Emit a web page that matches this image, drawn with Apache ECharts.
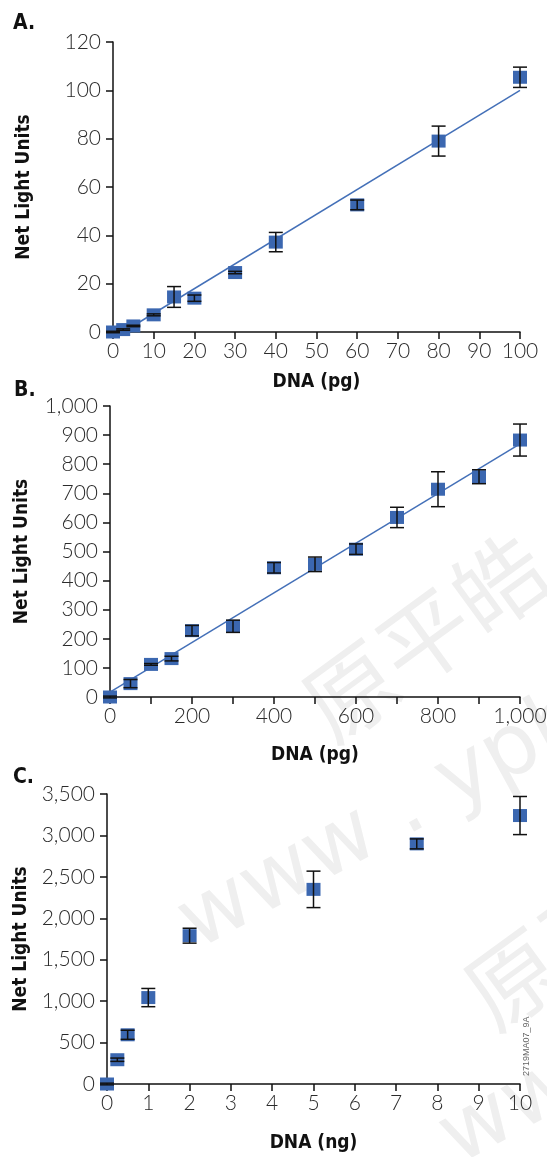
<!DOCTYPE html>
<html>
<head>
<meta charset="utf-8">
<script src="https://cdn.jsdelivr.net/npm/echarts@6/dist/echarts.min.js"></script>
<style>
  html, body { margin: 0; padding: 0; background: #fff; }
  #main { width: 547px; height: 1157px; }
</style>
</head>
<body>
<div id="main"></div>
<script>
// A. low range DNA (pg)
var xA = [0, 2.5, 5, 10, 15, 20, 30, 40, 60, 80, 100];
var yA = [0, 1, 2.5, 7.1, 14.5, 14, 24.6, 37.2, 52.6, 79, 105.4];
var errA = [0.3, 0.3, 0.3, 0.4, 4.3, 1.3, 0.5, 4, 2, 6.2, 4.2];
var fitAx = [2.5, 100];
var fitAy = [0, 100];

// B. DNA (pg) up to 1,000
var xB = [0, 50, 100, 150, 200, 300, 400, 500, 600, 700, 800, 900, 1000];
var yB = [0, 46, 112, 132, 228, 243, 444, 456, 508, 617, 714, 757, 883];
var errB = [3, 14, 3, 8, 18, 21, 18, 25, 18, 35, 60, 24, 55];
var fitBx = [0, 1000];
var fitBy = [17, 870];

// C. DNA (ng)
var xC = [0, 0.25, 0.5, 1, 2, 5, 7.5, 10];
var yC = [0, 293, 594, 1043, 1790, 2349, 2898, 3240];
var errC = [10, 20, 55, 110, 90, 220, 60, 230];

var panelLabels = ['A.', 'B.', 'C.'];
var yName = 'Net Light Units';
var xNames = ['DNA (pg)', 'DNA (pg)', 'DNA (ng)'];

var chart = echarts.init(document.getElementById('main'));

var blue = '#3b67b0';
var ink = '#111';
var tickFont = { fontFamily: 'Lato', fontWeight: 300, fontSize: 21, color: '#2b2b2b' };
var nameFont = { fontFamily: '"Liberation Sans Narrow", "DejaVu Sans Condensed", sans-serif', fontWeight: 'bold', fontSize: 19, color: ink };

function fmt(v) {
  return v.toLocaleString('en-US');
}

function pairs(xs, ys) {
  return xs.map(function (x, i) { return [x, ys[i]]; });
}

function bars(xs, ys, es) {
  return xs.map(function (x, i) { return [x, ys[i] - es[i], ys[i] + es[i]]; });
}

// error bar with caps
function errBar(params, api) {
  var top = api.coord([api.value(0), api.value(2)]);
  var bot = api.coord([api.value(0), api.value(1)]);
  var w = 7;
  var st = { stroke: ink, lineWidth: 1.5 };
  return {
    type: 'group',
    children: [
      { type: 'line', shape: { x1: top[0], y1: top[1], x2: bot[0], y2: bot[1] }, style: st },
      { type: 'line', shape: { x1: top[0] - w, y1: top[1], x2: top[0] + w, y2: top[1] }, style: st },
      { type: 'line', shape: { x1: bot[0] - w, y1: bot[1], x2: bot[0] + w, y2: bot[1] }, style: st }
    ]
  };
}

function axisBase() {
  return {
    axisLine: { onZero: false, lineStyle: { color: ink, width: 1.5 } },
    axisTick: { length: 7, lineStyle: { color: ink, width: 1.5 } },
    splitLine: { show: false }
  };
}

function xAx(idx, max, step, nameGap, labelEvery) {
  var a = axisBase();
  a.type = 'value';
  a.gridIndex = idx;
  a.min = 0;
  a.max = max;
  a.interval = step;
  a.name = xNames[idx];
  a.nameLocation = 'middle';
  a.nameGap = nameGap;
  a.nameTextStyle = nameFont;
  a.axisLabel = Object.assign({
    margin: 9,
    showMinLabel: true,
    showMaxLabel: true,
    formatter: function (v) {
      if (labelEvery && Math.round(v) % labelEvery !== 0) return '';
      return fmt(v);
    }
  }, tickFont);
  return a;
}

function yAx(idx, max, step, nameGap) {
  var a = axisBase();
  a.type = 'value';
  a.gridIndex = idx;
  a.min = 0;
  a.max = max;
  a.interval = step;
  a.name = yName;
  a.nameLocation = 'middle';
  a.nameGap = nameGap;
  a.nameTextStyle = nameFont;
  a.axisLabel = Object.assign({ margin: 12, formatter: fmt }, tickFont);
  return a;
}

function scatter(idx, xs, ys) {
  return {
    type: 'scatter', xAxisIndex: idx, yAxisIndex: idx,
    symbol: 'rect', symbolSize: [14, 13],
    itemStyle: { color: blue, opacity: 1 },
    z: 3, silent: true,
    data: pairs(xs, ys)
  };
}

function errSeries(idx, xs, ys, es) {
  return {
    type: 'custom', xAxisIndex: idx, yAxisIndex: idx,
    renderItem: errBar, z: 4, silent: true,
    encode: { x: 0, y: [1, 2] },
    data: bars(xs, ys, es)
  };
}

function fitSeries(idx, xs, ys) {
  return {
    type: 'line', xAxisIndex: idx, yAxisIndex: idx,
    symbol: 'none', z: 2, silent: true,
    lineStyle: { color: '#4470b8', width: 1.5 },
    data: pairs(xs, ys)
  };
}

// watermark text, very faint
var wmStyle = { fill: '#efefef', fontFamily: '"Noto Sans CJK SC", sans-serif', fontSize: 92, align: 'center', verticalAlign: 'middle' };
var wmLatin = { fill: '#efefef', fontFamily: '"DejaVu Sans", sans-serif', fontSize: 86, align: 'center', verticalAlign: 'middle' };
var labelFont = 'bold 21px "Liberation Sans Narrow", "DejaVu Sans Condensed", sans-serif';

var option = {
  animation: false,
  backgroundColor: '#fff',
  grid: [
    { left: 113, top: 42, width: 407, height: 290, outerBoundsMode: 'none' },
    { left: 110, top: 406, width: 410, height: 291, outerBoundsMode: 'none' },
    { left: 107, top: 794, width: 413, height: 290, outerBoundsMode: 'none' }
  ],
  xAxis: [
    xAx(0, 100, 10, 41, 0),
    xAx(1, 1000, 100, 49, 200),
    xAx(2, 10, 1, 50, 0)
  ],
  yAxis: [
    yAx(0, 120, 20, 79),
    yAx(1, 1000, 100, 78),
    yAx(2, 3500, 500, 75)
  ],
  graphic: [
    { type: 'text', z: -10, x: 425, y: 637, rotation: 0.63, style: Object.assign({ text: '原平皓' }, wmStyle) },
    { type: 'text', z: -10, x: 587, y: 925, rotation: 0.63, style: Object.assign({ text: '原平皓' }, wmStyle) },
    { type: 'text', z: -10, x: 385, y: 822, rotation: 0.5, style: Object.assign({ text: 'www . yph' }, wmLatin) },
    { type: 'text', z: -10, x: 540, y: 1095, rotation: 0.5, style: Object.assign({ text: 'www' }, wmLatin) },
    { type: 'text', left: 13, top: 13, style: { text: panelLabels[0], font: labelFont, fill: ink } },
    { type: 'text', left: 14, top: 380, style: { text: panelLabels[1], font: labelFont, fill: ink } },
    { type: 'text', left: 13, top: 767, style: { text: panelLabels[2], font: labelFont, fill: ink } },
    { type: 'text', x: 527, y: 1076, rotation: Math.PI / 2, style: { text: '2719MA07_9A', font: '9px "Liberation Sans", sans-serif', fill: '#666', align: 'left', verticalAlign: 'middle' } }
  ],
  series: [
    fitSeries(0, fitAx, fitAy),
    scatter(0, xA, yA),
    errSeries(0, xA, yA, errA),
    fitSeries(1, fitBx, fitBy),
    scatter(1, xB, yB),
    errSeries(1, xB, yB, errB),
    scatter(2, xC, yC),
    errSeries(2, xC, yC, errC)
  ]
};

chart.setOption(option);
</script>
</body>
</html>
